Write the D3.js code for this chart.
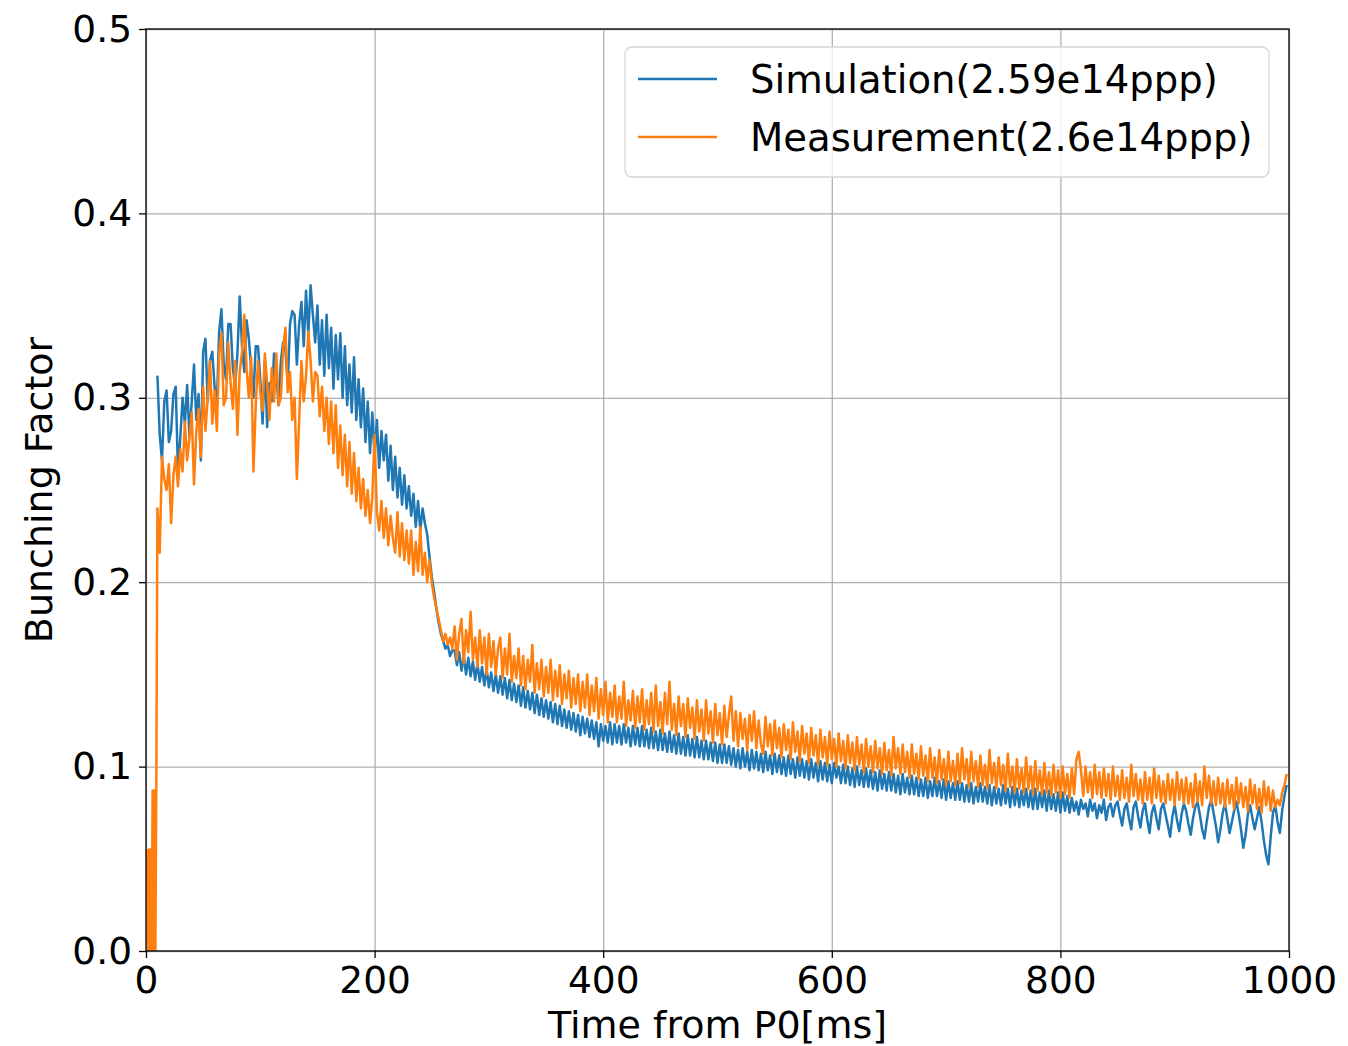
<!DOCTYPE html>
<html><head><meta charset="utf-8">
<script src="https://cdn.jsdelivr.net/npm/d3@7"></script>
<style>
body{margin:0;background:#fff}
svg{display:block}
text{font-family:"DejaVu Sans",sans-serif}
</style>
</head><body>
<svg id="chart" width="1348" height="1046"></svg>
<script>
// ---- data ----
const xTicks = [0, 200, 400, 600, 800, 1000];
const yTicks = [0.0, 0.1, 0.2, 0.3, 0.4, 0.5];
const seriesNames = ["Simulation(2.59e14ppp)", "Measurement(2.6e14ppp)"];
const xLabel = "Time from P0[ms]";
const yLabel = "Bunching Factor";
const startTime = 10;   // ms, first sample of the main series
const timeStep = 2;     // ms between samples

// Simulation, t = 10, 12, ... 998 ms (rows of 20 ms)
const simValues = [
  .312,.280,.266,.298,.304,.276,.282,.302,.306,.260,
  .278,.300,.286,.307,.279,.298,.318,.288,.302,.266,
  .325,.332,.298,.320,.325,.306,.296,.336,.348,.318,
  .310,.340,.340,.316,.306,.324,.355,.328,.314,.342,
  .332,.316,.300,.328,.328,.310,.286,.320,.284,.308,
  .298,.324,.312,.296,.320,.330,.326,.308,.340,.347,
  .345,.318,.340,.352,.328,.358,.334,.361,.345,.330,
  .350,.318,.342,.312,.345,.316,.338,.305,.334,.310,
  .335,.300,.328,.296,.318,.292,.322,.288,.310,.284,
  .305,.276,.298,.270,.292,.268,.288,.262,.282,.266,
  .280,.255,.274,.250,.268,.246,.262,.242,.258,.240,
  .252,.236,.248,.230,.244,.228,.240,.232,.226,.214,
  .203,.195,.186,.178,.172,.168,.164,.166,.160,.163,
  .163,.155,.162,.152,.160,.150,.159,.149,.157,.147,
  .156,.146,.154,.144,.153,.143,.151,.141,.150,.140,
  .149,.139,.148,.137,.147,.136,.145,.135,.144,.133,
  .143,.132,.141,.131,.140,.129,.139,.128,.137,.127,
  .136,.126,.135,.124,.134,.123,.133,.122,.131,.121,
  .130,.120,.129,.119,.128,.117,.127,.118,.126,.116,
  .125,.115,.124,.111,.123,.114,.122,.113,.124,.112,
  .123,.113,.122,.112,.123,.113,.121,.111,.122,.112,
  .121,.111,.122,.111,.120,.110,.121,.110,.119,.109,
  .120,.109,.118,.108,.119,.108,.117,.107,.118,.107,
  .116,.106,.117,.106,.115,.105,.116,.105,.114,.104,
  .114,.104,.113,.103,.113,.102,.112,.102,.112,.102,
  .111,.101,.110,.100,.109,.099,.110,.100,.108,.098,
  .109,.099,.108,.098,.107,.097,.108,.098,.106,.096,
  .107,.097,.106,.096,.105,.095,.106,.096,.104,.094,
  .105,.095,.104,.094,.103,.093,.104,.094,.102,.092,
  .103,.093,.102,.092,.101,.091,.102,.094,.100,.091,
  .101,.091,.100,.090,.099,.089,.100,.090,.098,.089,
  .099,.089,.098,.088,.097,.087,.098,.088,.096,.087,
  .097,.087,.096,.086,.095,.085,.096,.086,.094,.085,
  .095,.085,.094,.084,.093,.084,.094,.083,.092,.084,
  .094,.084,.092,.083,.093,.082,.092,.083,.091,.082,
  .092,.082,.091,.081,.090,.081,.091,.080,.089,.081,
  .091,.081,.089,.080,.090,.079,.089,.080,.088,.079,
  .090,.080,.088,.078,.089,.079,.088,.078,.087,.079,
  .088,.078,.087,.077,.088,.077,.086,.078,.087,.076,
  .087,.077,.085,.076,.086,.075,.086,.076,.084,.075,
  .083,.076,.081,.074,.082,.077,.080,.073,.082,.076,
  .080,.072,.079,.075,.082,.071,.078,.080,.073,.079,
  .081,.074,.068,.077,.080,.072,.066,.078,.081,.073,
  .067,.076,.080,.071,.064,.075,.079,.072,.066,.077,
  .080,.074,.068,.062,.073,.079,.071,.065,.074,.080,
  .076,.069,.063,.072,.078,.081,.074,.066,.061,.070,
  .078,.082,.075,.068,.059,.066,.075,.080,.072,.064,
  .070,.076,.081,.074,.066,.056,.063,.074,.079,.072,
  .066,.072,.078,.070,.060,.052,.047,.062,.075,.079,
  .070,.064,.076,.084,.090
];

// Measurement: a few start-up samples before t = 10 ms
const measStartTimes = [1, 1.8, 2.6, 3.4, 4.2, 5, 5.8, 6.6, 7.4, 8.2, 9];
const measStartValues = [.055, 0, .055, 0, .055, 0, .087, 0, .087, 0, .087];

// Measurement, t = 10, 12, ... 998 ms
const measValues = [
  .240,.216,.268,.256,.250,.264,.232,.258,.268,.252,
  .272,.260,.287,.266,.278,.292,.253,.282,.294,.268,
  .306,.282,.300,.320,.286,.304,.282,.324,.335,.296,
  .300,.330,.308,.294,.320,.280,.314,.325,.345,.316,
  .300,.322,.260,.296,.320,.303,.293,.324,.308,.288,
  .316,.298,.324,.296,.300,.327,.338,.303,.314,.288,
  .300,.256,.288,.320,.298,.312,.336,.320,.298,.314,
  .312,.290,.306,.282,.300,.275,.298,.270,.296,.262,
  .285,.258,.280,.252,.276,.248,.270,.244,.262,.240,
  .256,.236,.250,.232,.246,.280,.238,.228,.244,.224,
  .240,.220,.236,.224,.216,.238,.214,.232,.212,.228,
  .210,.228,.204,.222,.206,.230,.204,.216,.200,.212,
  .200,.192,.186,.180,.174,.168,.172,.166,.170,.164,
  .176,.158,.172,.180,.156,.174,.162,.184,.158,.170,
  .154,.174,.156,.170,.150,.172,.154,.168,.150,.164,
  .170,.148,.164,.150,.172,.146,.160,.148,.164,.144,
  .160,.142,.158,.146,.166,.140,.156,.142,.158,.138,
  .154,.140,.158,.136,.152,.138,.155,.134,.150,.137,
  .152,.132,.148,.134,.150,.130,.146,.132,.150,.128,
  .144,.130,.148,.126,.142,.128,.146,.124,.140,.127,
  .144,.124,.138,.126,.146,.122,.136,.125,.141,.121,
  .138,.124,.142,.120,.136,.123,.140,.119,.144,.122,
  .135,.118,.140,.123,.146,.120,.134,.117,.138,.122,
  .134,.116,.137,.121,.132,.115,.136,.119,.131,.114,
  .136,.118,.130,.113,.134,.117,.129,.112,.133,.116,
  .128,.138,.114,.130,.111,.129,.115,.126,.109,.128,
  .114,.130,.110,.125,.112,.107,.127,.111,.123,.106,
  .125,.110,.121,.105,.123,.109,.120,.104,.124,.108,
  .119,.103,.122,.107,.118,.102,.121,.106,.117,.101,
  .120,.105,.116,.101,.119,.104,.115,.100,.118,.103,
  .114,.099,.117,.102,.113,.098,.116,.101,.112,.097,
  .115,.100,.111,.097,.114,.099,.110,.096,.113,.098,
  .109,.095,.116,.099,.110,.096,.112,.097,.108,.094,
  .112,.096,.107,.093,.111,.095,.106,.092,.110,.094,
  .105,.091,.109,.093,.104,.090,.108,.092,.103,.090,
  .107,.091,.110,.093,.104,.089,.108,.092,.103,.089,
  .106,.090,.101,.088,.109,.091,.102,.088,.105,.090,
  .101,.087,.107,.089,.100,.086,.104,.088,.099,.086,
  .105,.088,.100,.085,.103,.087,.098,.085,.102,.086,
  .097,.084,.101,.086,.098,.083,.100,.085,.096,.083,
  .099,.085,.104,.108,.098,.084,.100,.086,.097,.083,
  .101,.085,.097,.083,.099,.084,.096,.082,.100,.084,
  .095,.082,.098,.083,.094,.081,.101,.084,.096,.082,
  .093,.080,.097,.082,.094,.080,.099,.083,.095,.081,
  .092,.080,.096,.082,.093,.079,.097,.082,.093,.080,
  .094,.080,.091,.078,.096,.081,.092,.079,.100,.083,
  .095,.080,.092,.079,.094,.080,.091,.078,.093,.080,
  .090,.077,.094,.080,.091,.078,.089,.076,.093,.080,
  .090,.077,.088,.075,.092,.079,.089,.076,.087,.078,
  .082,.079,.086,.090,.096
];

// ---- build point lists ----
const simPts = simValues.map((v, i) => [startTime + i * timeStep, v]);
const measPts = measStartTimes.map((t, i) => [t, measStartValues[i]])
  .concat(measValues.map((v, i) => [startTime + i * timeStep, v]));

const colors = ["#1f77b4", "#ff7f0e"];
const L = 146, R = 1289, T = 29, B = 951;

const svg = d3.select("#chart");
const x = d3.scaleLinear().domain([0, 1000]).range([L, R]);
const y = d3.scaleLinear().domain([0, 0.5]).range([B, T]);

// grid
const grid = svg.append("g");
grid.append("g").attr("transform", `translate(0,${B})`)
  .call(d3.axisBottom(x).tickValues(xTicks).tickSize(-(B - T)).tickFormat(""))
  .call(g => g.select(".domain").remove())
  .call(g => g.selectAll("line").attr("stroke", "#b0b0b0").attr("stroke-width", 1.3));
grid.append("g").attr("transform", `translate(${L},0)`)
  .call(d3.axisLeft(y).tickValues(yTicks).tickSize(-(R - L)).tickFormat(""))
  .call(g => g.select(".domain").remove())
  .call(g => g.selectAll("line").attr("stroke", "#b0b0b0").attr("stroke-width", 1.3));

// clip
svg.append("defs").append("clipPath").attr("id", "clip")
  .append("rect").attr("x", L).attr("y", T).attr("width", R - L).attr("height", B - T);

const line = d3.line().x(d => x(d[0])).y(d => y(d[1]));
const plot = svg.append("g").attr("clip-path", "url(#clip)");
[simPts, measPts].forEach((pts, i) => {
  plot.append("path").datum(pts)
    .attr("fill", "none").attr("stroke", colors[i])
    .attr("stroke-width", 2.5).attr("stroke-linejoin", "round")
    .attr("d", line);
});

// axes
const xa = svg.append("g").attr("transform", `translate(0,${B})`)
  .call(d3.axisBottom(x).tickValues(xTicks).tickSize(7).tickPadding(6).tickFormat(d3.format("d")));
const ya = svg.append("g").attr("transform", `translate(${L},0)`)
  .call(d3.axisLeft(y).tickValues(yTicks).tickSize(7).tickPadding(7).tickFormat(d3.format(".1f")));
[xa, ya].forEach(a => {
  a.select(".domain").remove();
  a.selectAll("line").attr("stroke", "#000").attr("stroke-width", 1.3);
  a.selectAll("text").attr("font-size", 37.5).attr("fill", "#000")
    .attr("font-family", '"DejaVu Sans", sans-serif');
});
xa.selectAll("text").attr("dy", "0.78em");

// spines
svg.append("rect").attr("x", L).attr("y", T).attr("width", R - L).attr("height", B - T)
  .attr("fill", "none").attr("stroke", "#000").attr("stroke-width", 1.3);

// labels
svg.append("text").attr("x", (L + R) / 2).attr("y", 1038).attr("text-anchor", "middle")
  .attr("font-size", 38).text(xLabel);
svg.append("text").attr("transform", `translate(52,${(T + B) / 2}) rotate(-90)`)
  .attr("text-anchor", "middle").attr("font-size", 38).text(yLabel);

// legend
const lg = svg.append("g");
lg.append("rect").attr("x", 625).attr("y", 47).attr("width", 644).attr("height", 130)
  .attr("rx", 7).attr("fill", "#fff").attr("fill-opacity", 0.8)
  .attr("stroke", "#d6d6d6").attr("stroke-width", 1.3);
seriesNames.forEach((name, i) => {
  const cy = 79 + i * 58;
  lg.append("line").attr("x1", 638).attr("x2", 717).attr("y1", cy).attr("y2", cy)
    .attr("stroke", colors[i]).attr("stroke-width", 2.5);
  lg.append("text").attr("x", 750).attr("y", cy).attr("dy", "0.35em")
    .attr("font-size", 38.6).text(name);
});
</script>
</body></html>
